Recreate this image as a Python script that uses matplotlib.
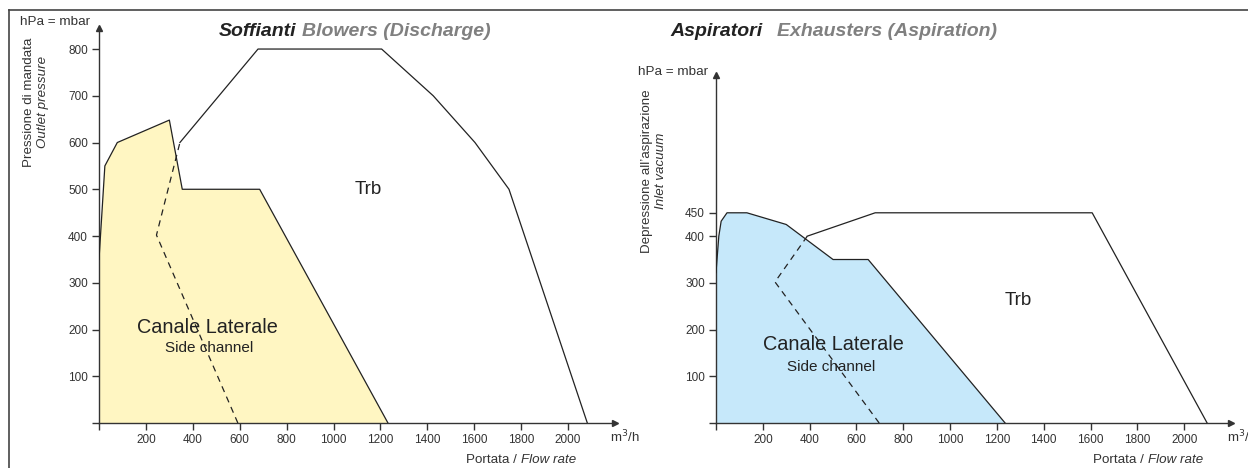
import matplotlib
matplotlib.use("Agg")
import matplotlib.pyplot as plt
from matplotlib.lines import Line2D

plt.rcParams['font.family'] = ['Liberation Sans', 'DejaVu Sans']

# ---- data: Blowers (left) ----
bl_side_x = [0, 0, 25, 78, 300, 355, 685, 1232]
bl_side_y = [0, 350, 550, 600, 648, 500, 500, 0]
bl_trb_x = [345, 678, 1205, 1425, 1603, 1748, 2082]
bl_trb_y = [600, 800, 800, 700, 600, 500, 0]
bl_dash_x = [592, 245, 345]
bl_dash_y = [0, 402, 600]
bl_xticks = [0, 200, 400, 600, 800, 1000, 1200, 1400, 1600, 1800, 2000]
bl_yticks = [0, 100, 200, 300, 400, 500, 600, 700, 800]

# ---- data: Exhausters (right) ----
ex_side_x = [0, 0, 12, 22, 47, 132, 300, 500, 650, 1235]
ex_side_y = [0, 322, 400, 432, 450, 450, 425, 350, 350, 0]
ex_trb_x = [390, 680, 1607, 2098]
ex_trb_y = [400, 450, 450, 0]
ex_dash_x = [697, 252, 390]
ex_dash_y = [0, 302, 400]
ex_xticks = [0, 200, 400, 600, 800, 1000, 1200, 1400, 1600, 1800, 2000]
ex_yticks = [0, 100, 200, 300, 400, 450]

W, H = 1248, 468
fig = plt.figure(figsize=(W / 100, H / 100), dpi=100)

AX_C = '#333333'
TXT_C = '#333333'
LINE_C = '#222222'


def make_ax(x0, x1, y0, y1, ymax):
    ax = fig.add_axes([x0 / W, (H - y0) / H, (x1 - x0) / W, (y0 - y1) / H])
    ax.set_xlim(0, 2200)
    ax.set_ylim(0, ymax)
    for s in ['top', 'right']:
        ax.spines[s].set_visible(False)
    for s in ['left', 'bottom']:
        ax.spines[s].set_color(AX_C)
        ax.spines[s].set_linewidth(1.0)
    ax.patch.set_alpha(0)
    ax.plot(1, 0, '>', color=AX_C, ms=4, transform=ax.get_yaxis_transform(), clip_on=False)
    ax.plot(0, 1, '^', color=AX_C, ms=4, transform=ax.get_xaxis_transform(), clip_on=False)
    ax.tick_params(direction='out', length=5, width=1, color=AX_C,
                   labelsize=8.5, labelcolor=TXT_C, pad=3)
    return ax


def draw(ax, sx, sy, fill, tx, ty, dx, dy, xticks, yticks):
    ax.fill(sx, sy, color=fill, lw=0, zorder=1)
    ax.plot(sx[1:], sy[1:], color=LINE_C, lw=0.9, zorder=3)
    ax.plot(tx, ty, color=LINE_C, lw=0.9, zorder=3)
    ax.plot(dx, dy, color=LINE_C, lw=0.9, ls=(0, (5, 4)), zorder=3)
    ax.set_xticks(xticks)
    ax.set_xticklabels([''] + [str(v) for v in xticks[1:]])
    ax.set_yticks(yticks)
    ax.set_yticklabels([''] + [str(v) for v in yticks[1:]])


# left axes
ax1 = make_ax(99, 615, 423, 28, 845)
draw(ax1, bl_side_x, bl_side_y, '#FFF6C2', bl_trb_x, bl_trb_y, bl_dash_x, bl_dash_y,
     bl_xticks, bl_yticks)
ax1.text(1147, 500, 'Trb', fontsize=13.5, ha='center', va='center', color=LINE_C)
ax1.text(462, 205, 'Canale Laterale', fontsize=14.3, ha='center', va='center', color=LINE_C)
ax1.text(470, 160, 'Side channel', fontsize=11, ha='center', va='center', color=LINE_C)

# right axes
ax2 = make_ax(716, 1231, 423, 75, 745)
draw(ax2, ex_side_x, ex_side_y, '#C6E8FA', ex_trb_x, ex_trb_y, ex_dash_x, ex_dash_y,
     ex_xticks, ex_yticks)
ax2.text(1290, 263, 'Trb', fontsize=13.5, ha='center', va='center', color=LINE_C)
ax2.text(500, 167, 'Canale Laterale', fontsize=14.3, ha='center', va='center', color=LINE_C)
ax2.text(491, 120, 'Side channel', fontsize=11, ha='center', va='center', color=LINE_C)


def ftext(x, y, s, **kw):
    fig.text(x / W, (H - y) / H, s, **kw)


# titles
TFS = 14
ftext(296, 31, 'Soffianti', fontsize=TFS, fontweight='bold', fontstyle='italic',
      color='#222222', va='center', ha='right')
ftext(302, 31, 'Blowers (Discharge)', fontsize=TFS, fontweight='bold', fontstyle='italic',
      color='#808080', va='center', ha='left')
ftext(670, 31, 'Aspiratori', fontsize=TFS, fontweight='bold', fontstyle='italic',
      color='#222222', va='center', ha='left')
ftext(777, 31, 'Exhausters (Aspiration)', fontsize=TFS, fontweight='bold', fontstyle='italic',
      color='#808080', va='center', ha='left')

# unit labels
ftext(20, 22, 'hPa = mbar', fontsize=9.7, color=TXT_C, va='center', ha='left')
ftext(638, 72, 'hPa = mbar', fontsize=9.7, color=TXT_C, va='center', ha='left')
ftext(610, 437, 'm$^3$/h', fontsize=9.5, color=TXT_C, va='center', ha='left')
ftext(1227, 437, 'm$^3$/h', fontsize=9.5, color=TXT_C, va='center', ha='left')

# y labels
ftext(29, 102, 'Pressione di mandata', fontsize=9.6, color=TXT_C, rotation=90,
      va='center', ha='center')
ftext(43, 102, 'Outlet pressure', fontsize=9.6, color=TXT_C, rotation=90,
      fontstyle='italic', va='center', ha='center')
ftext(647, 171, 'Depressione all\u2019aspirazione', fontsize=9.6, color=TXT_C, rotation=90,
      va='center', ha='center')
ftext(661, 171, 'Inlet vacuum', fontsize=9.6, color=TXT_C, rotation=90,
      fontstyle='italic', va='center', ha='center')

# x labels
ftext(521, 460, 'Portata / ', fontsize=9.6, color=TXT_C, va='center', ha='right')
ftext(521, 460, 'Flow rate', fontsize=9.6, color=TXT_C, va='center', ha='left', fontstyle='italic')
ftext(1148, 460, 'Portata / ', fontsize=9.6, color=TXT_C, va='center', ha='right')
ftext(1148, 460, 'Flow rate', fontsize=9.6, color=TXT_C, va='center', ha='left', fontstyle='italic')

# outer frame lines
fig.add_artist(Line2D([9 / W, 9 / W], [0, (H - 10) / H], color='#444444', lw=1.2,
                      transform=fig.transFigure))
fig.add_artist(Line2D([9 / W, 1], [(H - 10) / H, (H - 10) / H], color='#444444', lw=1.2,
                      transform=fig.transFigure))

fig.savefig('out.png', dpi=100)
